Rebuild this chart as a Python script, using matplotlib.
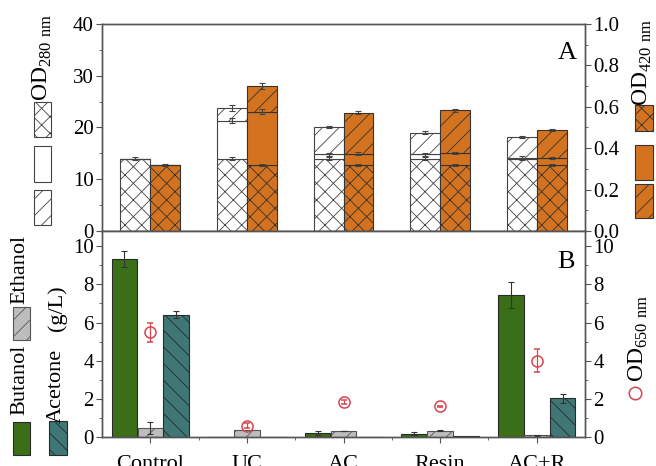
import numpy as np
import matplotlib
matplotlib.use('Agg')
import matplotlib.pyplot as plt
from matplotlib.patches import Rectangle
from matplotlib.lines import Line2D
from matplotlib.ticker import MultipleLocator

plt.rcParams['font.family'] = ['Liberation Serif', 'DejaVu Serif']
plt.rcParams['mathtext.fontset'] = 'custom'
plt.rcParams['mathtext.rm'] = 'Liberation Serif'
plt.rcParams['hatch.linewidth'] = 0.6

# Treatments
groups = ['Control', 'UC', 'AC', 'Resin', 'AC+R']

# Panel A: cumulative OD280 levels (left axis) and errors
od280_base = [14.0, 14.0, 14.0, 14.0, 14.0]
od280_mid = [14.0, 21.3, 14.8, 14.8, 14.2]
od280_top = [14.0, 23.7, 20.1, 19.0, 18.2]
od280_base_err = [0.25, 0.25, 0.25, 0.25, 0.2]
od280_mid_err = [0, 0.5, 0.3, 0.3, 0.2]
od280_top_err = [0, 0.6, 0.2, 0.3, 0.25]

# Panel A: cumulative OD420 levels (right axis) and errors
od420_base = [0.318, 0.318, 0.318, 0.318, 0.318]
od420_mid = [0.318, 0.576, 0.373, 0.377, 0.351]
od420_top = [0.318, 0.702, 0.571, 0.583, 0.488]
od420_base_err = [0.004, 0.004, 0.004, 0.004, 0.004]
od420_mid_err = [0, 0.012, 0.008, 0.006, 0.005]
od420_top_err = [0, 0.015, 0.008, 0.006, 0.004]

# Panel B: solvent titres (g/L) and OD650
butanol = [9.35, 0.0, 0.23, 0.17, 7.45]
butanol_err = [0.42, 0, 0.1, 0.07, 0.7]
ethanol = [0.47, 0.38, 0.31, 0.33, 0.1]
ethanol_err = [0.3, 0, 0.02, 0.02, 0.03]
acetone = [6.42, 0.0, 0.0, 0.05, 2.03]
acetone_err = [0.2, 0, 0, 0, 0.25]
od650 = [5.49, 0.6, 1.82, 1.6, 4.0]
od650_err = [0.5, 0.15, 0.1, 0.05, 0.6]

orange = '#d4731f'
green = '#3a6e17'
teal = '#3e7775'
gray = '#bdbdbd'
red = '#d9444f'
spine_c = '#555555'

x = np.arange(len(groups))
W, H = 656, 466
fig = plt.figure(figsize=(W / 100, H / 100), dpi=100)


def px(x0, y0, x1, y1):
    # pixel box -> figure fraction rect
    return [x0 / W, 1 - y1 / H, (x1 - x0) / W, (y1 - y0) / H]


def style_axis(ax):
    for s in ax.spines.values():
        s.set_color(spine_c)
        s.set_linewidth(1.0)
    ax.tick_params(which='both', direction='out', colors=spine_c,
                   labelcolor='black', labelsize=15, pad=2)
    ax.tick_params(which='major', length=4)
    ax.tick_params(which='minor', length=2.5)


def stacked(ax, xs, base, mid, top, errs, faces, hatches, edge):
    base, mid, top = map(np.asarray, (base, mid, top))
    ax.bar(xs, base, 0.31, color=faces[0], hatch=hatches[0], edgecolor=edge, linewidth=0.8)
    ax.bar(xs, mid - base, 0.31, bottom=base, color=faces[1], hatch=hatches[1],
           edgecolor=edge, linewidth=0.8)
    ax.bar(xs, top - mid, 0.31, bottom=mid, color=faces[2], hatch=hatches[2],
           edgecolor=edge, linewidth=0.8)
    for lvl, e in zip((base, mid, top), errs):
        e = np.asarray(e)
        m = e > 0
        ax.errorbar(xs[m], lvl[m], yerr=e[m], fmt='none', ecolor='#444444',
                    elinewidth=0.8, capsize=2.5, capthick=0.8)


# ---- panel A
axA = fig.add_axes(px(102, 24, 585, 231))
axA2 = axA.twinx()
stacked(axA, x - 0.155, od280_base, od280_mid, od280_top,
        (od280_base_err, od280_mid_err, od280_top_err),
        ('white', 'white', 'white'), ('xx', None, '//'), '#444444')
stacked(axA2, x + 0.155, od420_base, od420_mid, od420_top,
        (od420_base_err, od420_mid_err, od420_top_err),
        (orange, orange, orange), ('xx', None, '//'), '#333333')
axA.set_ylim(0, 40)
axA2.set_ylim(0, 1.0)
axA.set_xlim(-0.5, 4.5)
axA.yaxis.set_major_locator(MultipleLocator(10))
axA.yaxis.set_minor_locator(MultipleLocator(5))
axA2.yaxis.set_major_locator(MultipleLocator(0.2))
axA2.yaxis.set_minor_locator(MultipleLocator(0.1))
axA2.yaxis.set_major_formatter(plt.FormatStrFormatter('%.1f'))
axA.set_xticks(x)
axA.set_xticks(x[:-1] + 0.5, minor=True)
axA.set_xticklabels([])
style_axis(axA)
style_axis(axA2)
axA.text(0.983, 0.86, 'A', transform=axA.transAxes, fontsize=19, ha='right', va='center')

# ---- panel B
axB = fig.add_axes(px(102, 231, 585, 437))
axB2 = axB.twinx()
axB.bar(x - 0.268, butanol, 0.265, color=green, edgecolor='#2a2a2a', linewidth=0.8)
axB.bar(x, ethanol, 0.265, color=gray, hatch='//', edgecolor='#555555', linewidth=0.8)
axB.bar(x + 0.268, acetone, 0.265, color=teal, hatch='\\\\', edgecolor='#2a2a2a', linewidth=0.8)
for xs, v, e in ((x - 0.268, butanol, butanol_err), (x, ethanol, ethanol_err),
                 (x + 0.268, acetone, acetone_err)):
    v, e = np.asarray(v), np.asarray(e)
    m = e > 0
    axB.errorbar(xs[m], v[m], yerr=e[m], fmt='none', ecolor='#333333',
                 elinewidth=0.8, capsize=2.5, capthick=0.8)
axB2.errorbar(x, od650, yerr=od650_err, fmt='o', ms=8, mfc='none', mec=red,
              mew=1.1, ecolor=red, elinewidth=0.9, capsize=2.5, capthick=0.9)
for a in (axB, axB2):
    a.set_ylim(0, 10.8)
    a.yaxis.set_major_locator(MultipleLocator(2))
    a.yaxis.set_minor_locator(MultipleLocator(1))
    style_axis(a)
axB.set_xlim(-0.5, 4.5)
axB.set_xticks(x)
axB.set_xticks(x[:-1] + 0.5, minor=True)
axB.set_xticklabels(groups, fontsize=16)
axB.tick_params(axis='x', pad=9)
axB.text(0.978, 0.85, 'B', transform=axB.transAxes, fontsize=19, ha='right', va='center')


# ---- side keys (rotated)
def key_box(box, face, hatch=None, edge='#444444'):
    fig.add_artist(Rectangle((box[0], box[1]), box[2], box[3], transform=fig.transFigure,
                             facecolor=face, hatch=hatch, edgecolor=edge, linewidth=0.8))


def key_text(cx, cy, s, size):
    fig.text(cx / W, 1 - cy / H, s, rotation=90, ha='center', va='center', fontsize=size)


od_lbl = r'OD$_{\mathrm{%s\ nm}}$'
key_text(42, 57, od_lbl % '280', 17)
key_box(px(34, 102, 51, 137), 'white', 'xx')
key_box(px(34, 146, 51, 182), 'white')
key_box(px(34, 190, 51, 225), 'white', '//')

key_text(642, 62, od_lbl % '420', 17)
key_box(px(635, 105, 653, 131), orange, 'xx', '#333333')
key_box(px(635, 145, 653, 180), orange, None, '#333333')
key_box(px(635, 184, 653, 218), orange, '//', '#333333')

key_text(20, 269, 'Ethanol', 16)
key_box(px(13, 307, 30, 340), gray, '//', '#555555')
key_text(20, 380, 'Butanol', 16)
key_box(px(13, 422, 30, 455), green, None, '#2a2a2a')
key_text(57, 308, '(g/L)', 16)
key_text(56, 386, 'Acetone', 16)
key_box(px(49, 421, 67, 455), teal, '\\\\', '#2a2a2a')

key_text(638, 338, od_lbl % '650', 17)
fig.add_artist(Line2D([635 / W], [1 - 393 / H], marker='o', ms=9, mfc='none', mec=red,
                      mew=1.1, transform=fig.transFigure))

fig.savefig('out.png', dpi=100)
